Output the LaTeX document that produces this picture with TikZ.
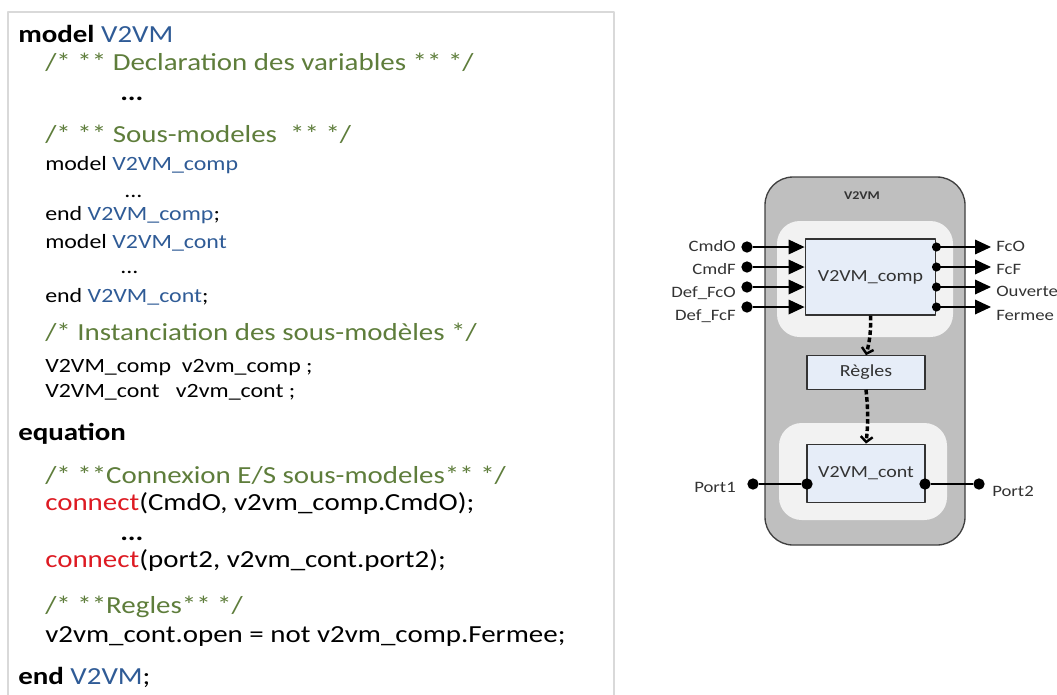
\documentclass[tikz,border=0pt]{standalone}
\usepackage{fontspec}
\setmainfont{Carlito}[FakeStretch=1.18]
\usetikzlibrary{arrows.meta,positioning}
\definecolor{vmbleu}{HTML}{2F5B96}
\definecolor{vmvert}{HTML}{5E7D3B}
\definecolor{vmrouge}{HTML}{DD1A22}
\definecolor{vmgris}{HTML}{BFBFBF}
\definecolor{vmclair}{HTML}{F2F2F2}
\definecolor{vmbloc}{HTML}{E6EDF8}
\begin{document}
\begin{tikzpicture}[x=0.75pt, y=-0.75pt, line join=round,
	grand/.style={font=\fontsize{18.4}{20}\selectfont, inner sep=0pt, anchor=base west},
	petit/.style={font=\fontsize{15.2}{17}\selectfont, inner sep=0pt, anchor=base west},
	bloc/.style={draw=black!80, fill=vmbloc, line width=0.9pt, font=\fontsize{12.7}{15}\selectfont, text=black!80},
	lbl/.style={font=\fontsize{11.9}{14}\selectfont, text=black!80, inner sep=0pt},
	pt/.style={circle, fill=black, inner sep=0pt, minimum size=8.5pt},
	fleche/.style={line width=0.9pt, -{Triangle[length=12pt, width=11pt]}},
	pointille/.style={dash pattern=on 3.5pt off 2pt, line width=2.6pt, -{Straight Barb[length=4pt, width=9pt, line width=1.8pt]}}]
	\useasboundingbox (0,0) rectangle (1057,694);
	
	% Cadre du code Modelica
	\draw[black!15, line width=1pt] (8,12) rectangle (614,700);
	\node[grand] (l1) at (18,42) {\textbf{model} \textcolor{vmbleu}{V2VM}};
	\node[grand, text=vmvert] (l2) at (45,70) {/* ** Declaration des variables ** */};
	\node[grand] (l3) at (120,100) {\textbf{...}};
	\node[grand, text=vmvert] (l4) at (45,142) {/* ** Sous-modeles~~** */};
	\node[petit] (l5) at (45,170) {model \textcolor{vmbleu}{V2VM\_comp}};
	\node[petit] (l6) at (124,197) {...};
	\node[petit] (l7) at (45,220) {end \textcolor{vmbleu}{V2VM\_comp};};
	\node[petit] (l8) at (45,248) {model \textcolor{vmbleu}{V2VM\_cont}};
	\node[petit] (l9) at (120,273) {...};
	\node[petit] (l10) at (45,302) {end \textcolor{vmbleu}{V2VM\_cont};};
	\node[grand, text=vmvert] (l11) at (45,340) {/* Instanciation des sous-modèles */};
	\node[petit] (l12) at (45,372) {V2VM\_comp~ v2vm\_comp ;};
	\node[petit] (l13) at (45,397) {V2VM\_cont~~ v2vm\_cont ;};
	\node[grand] (l14) at (18,440) {\textbf{equation}};
	\node[grand, text=vmvert] (l15) at (45,483) {/* **Connexion E/S sous-modeles** */};
	\node[grand] (l16) at (45,510) {\textcolor{vmrouge}{connect}(CmdO, v2vm\_comp.CmdO);};
	\node[grand] (l17) at (120,540) {\textbf{...}};
	\node[grand] (l18) at (45,567) {\textcolor{vmrouge}{connect}(port2, v2vm\_cont.port2);};
	\node[grand, text=vmvert] (l19) at (45,613) {/* **Regles** */};
	\node[grand] (l20) at (45,642) {v2vm\_cont.open = not v2vm\_comp.Fermee;};
	\node[grand] (l21) at (18,684) {\textbf{end} \textcolor{vmbleu}{V2VM};};
	
	% Modele V2VM
	\draw[fill=vmgris, draw=black!75, line width=1pt, rounded corners=21pt] (765,177) rectangle (965,545);
	\node[lbl, font=\bfseries\fontsize{8.9}{11}\selectfont] (titre) at (862,196) {V2VM};
	\fill[vmclair, rounded corners=17pt] (777,221) rectangle (953,337);
	\fill[vmclair, rounded corners=17pt] (779,423) rectangle (947,520);
	
	% Sous-modeles
	\node[bloc, minimum width=98pt, minimum height=57pt] (comp) at (870.5,277) {V2VM\_comp};
	\node[bloc, minimum width=88.5pt, minimum height=25pt] (regles) at (866,372.5) {Règles};
	\node[bloc, minimum width=88.5pt, minimum height=44pt] (cont) at (866,473.5) {V2VM\_cont};
	
	% Entrees
	\node[pt] (cmdo) at (747,247) {};
	\node[pt] (cmdf) at (747,267) {};
	\node[pt] (deffco) at (747,287) {};
	\node[pt] (deffcf) at (747,307) {};
	\draw[fleche] (cmdo) -- (cmdo -| comp.west);
	\draw[fleche] (cmdf) -- (cmdf -| comp.west);
	\draw[fleche] (deffco) -- (deffco -| comp.west);
	\draw[fleche] (deffcf) -- (deffcf -| comp.west);
	\node[lbl, anchor=east] (lcmdo) at (736,246) {CmdO};
	\node[lbl, anchor=east] (lcmdf) at (736,269) {CmdF};
	\node[lbl, anchor=east] (ldeffco) at (736,293) {Def\_FcO};
	\node[lbl, anchor=east] (ldeffcf) at (736,316) {Def\_FcF};
	
	% Sorties
	\coordinate (fco) at (991,247);
	\coordinate (fcf) at (991,267);
	\coordinate (ouverte) at (991,287);
	\coordinate (fermee) at (991,307);
	\draw[fleche] (fco -| comp.east) -- (fco);
	\draw[fleche] (fcf -| comp.east) -- (fcf);
	\draw[fleche] (ouverte -| comp.east) -- (ouverte);
	\draw[fleche] (fermee -| comp.east) -- (fermee);
	\fill (fco -| comp.east) circle (3.4pt);
	\fill (fcf -| comp.east) circle (3.4pt);
	\fill (ouverte -| comp.east) circle (3.4pt);
	\fill (fermee -| comp.east) circle (3.4pt);
	\node[lbl, anchor=west] (lfco) at (996,246) {FcO};
	\node[lbl, anchor=west] (lfcf) at (996,269) {FcF};
	\node[lbl, anchor=west] (louverte) at (996,291) {Ouverte};
	\node[lbl, anchor=west] (lfermee) at (996,315) {Fermee};
	
	% Regles entre les sous-modeles
	\draw[pointille] (comp.south) to[bend left=8] (regles.north);
	\draw[pointille] (regles.south) to[bend left=6] (cont.north);
	
	% Ports
	\node[pt] (port1) at (753,484) {};
	\node[pt] (p1) at (807,484) {};
	\node[pt] (p2) at (925,484) {};
	\node[pt] (port2) at (979,484) {};
	\draw[line width=0.9pt] (port1) -- (p1);
	\draw[line width=0.9pt] (p2) -- (port2);
	\node[lbl, anchor=east] (lport1) at (736,487) {Port1};
	\node[lbl, anchor=west] (lport2) at (992,491) {Port2};
\end{tikzpicture}
\end{document}
